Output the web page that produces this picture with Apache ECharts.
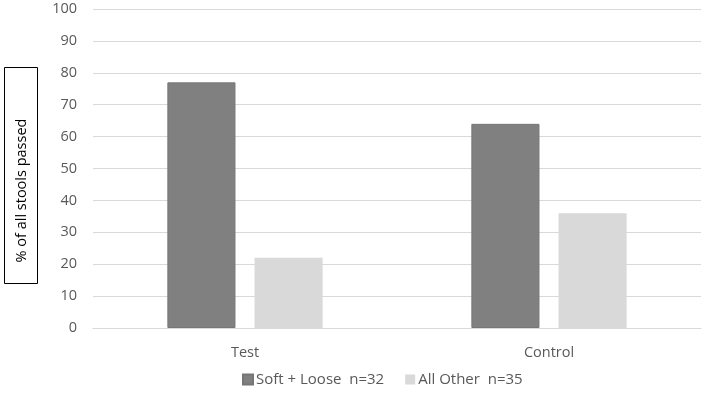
<!DOCTYPE html>
<html>
<head>
<meta charset="utf-8">
<script src="https://cdn.jsdelivr.net/npm/echarts@6/dist/echarts.min.js"></script>
<style>
  html, body { margin: 0; padding: 0; background: #fff; }
  #chart { width: 706px; height: 396px; }
</style>
</head>
<body>
<div id="chart"></div>
<script>
// Values (percent of all stools passed)
const categories = ["Test", "Control"];
const seriesNames = ["Soft + Loose  n=32", "All Other  n=35"];
const softLoose = [77, 64];
const allOther = [22, 36];
const yTitle = "% of all stools passed";

const FONT = "'Open Sans', sans-serif";
const LABEL = "#595959";

const chart = echarts.init(document.getElementById("chart"), null, { renderer: "canvas" });

chart.setOption({
  animation: false,
  textStyle: { fontFamily: FONT },
  grid: { left: 93, right: 5, top: 9, bottom: 68 },
  legend: {
    bottom: 4,
    left: 237,
    itemWidth: 10,
    itemHeight: 10,
    itemGap: 21,
    icon: "rect",
    textStyle: { color: LABEL, fontSize: 15, fontFamily: FONT, padding: [0, 0, 0, -2] },
    data: seriesNames,
  },
  xAxis: {
    type: "category",
    data: categories,
    axisTick: { show: false },
    axisLine: { show: true, lineStyle: { color: "#d9d9d9" } },
    axisLabel: { color: LABEL, fontSize: 14.5, margin: 17 },
  },
  yAxis: {
    type: "value",
    min: 0,
    max: 100,
    interval: 10,
    axisLine: { show: false },
    axisTick: { show: false },
    axisLabel: { color: LABEL, fontSize: 14.5, margin: 16 },
    splitLine: { lineStyle: { color: "#d9d9d9", width: 1 } },
  },
  series: [
    {
      name: seriesNames[0],
      type: "bar",
      data: softLoose,
      barWidth: "22.4%",
      barGap: "28%",
      itemStyle: { color: "#808080", borderColor: "#767676", borderWidth: 1 },
    },
    {
      name: seriesNames[1],
      type: "bar",
      data: allOther,
      barWidth: "22.4%",
      itemStyle: { color: "#d9d9d9" },
    },
  ],
  // boxed y-axis title, as in the original (text sits low in the box)
  graphic: [
    {
      type: "group",
      left: 4,
      top: 67,
      children: [
        {
          type: "rect",
          shape: { x: 0, y: 0, width: 33, height: 216 },
          style: { fill: "#fff", stroke: "#000", lineWidth: 1 },
        },
        {
          type: "text",
          x: 17,
          y: 123,
          rotation: Math.PI / 2,
          style: {
            text: yTitle,
            font: "14.5px " + FONT,
            fill: "#000",
            align: "center",
            verticalAlign: "middle",
          },
        },
      ],
    },
  ],
});
</script>
</body>
</html>
